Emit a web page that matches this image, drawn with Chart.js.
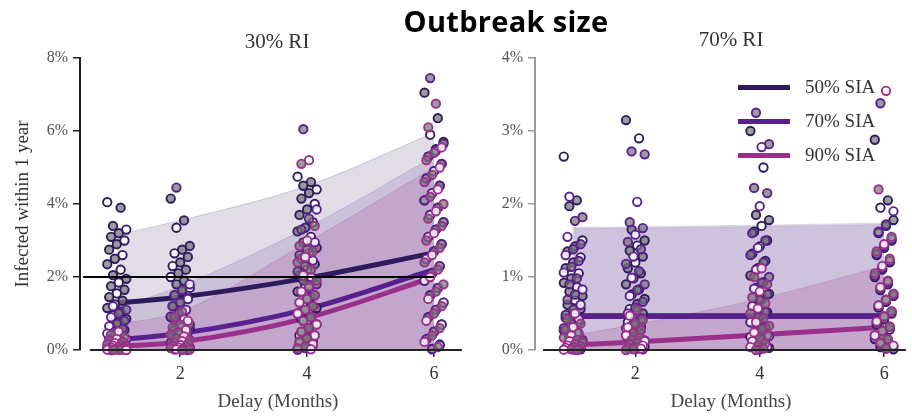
<!DOCTYPE html>
<html>
<head>
<meta charset="utf-8">
<script src="https://cdn.jsdelivr.net/npm/chart.js@4.4.1/dist/chart.umd.min.js"></script>
<style>
  html, body { margin: 0; padding: 0; background: #fff; }
  #wrap { position: relative; width: 912px; height: 418px; overflow: hidden; background: #fff; }
  canvas { position: absolute; top: 0; }
  .txt { position: absolute; white-space: nowrap; color: #222; font-family: "Liberation Serif", "DejaVu Serif", serif; }
  .sw { position: absolute; height: 5px; width: 52px; }
</style>
</head>
<body>
<div id="wrap">
  <canvas id="left" width="468" height="418" style="left:0px"></canvas>
  <canvas id="right" width="452" height="418" style="left:460px"></canvas>

  <div class="txt" style="left:0;width:1012px;text-align:center;top:1px;font-family:'Open Sans',sans-serif;font-weight:700;font-size:29px;color:#000;letter-spacing:0.3px;">Outbreak size</div>
  <div class="txt" style="left:177px;width:200px;text-align:center;top:29px;font-size:21px;color:#333;">30% RI</div>
  <div class="txt" style="left:631px;width:200px;text-align:center;top:27px;font-size:21px;color:#333;">70% RI</div>
  <div class="txt" style="left:-78px;width:200px;text-align:center;top:193px;font-size:19px;color:#333;transform:rotate(-90deg);">Infected within 1 year</div>
  <div class="txt" style="left:178px;width:200px;text-align:center;top:390px;font-size:19px;color:#444;">Delay (Months)</div>
  <div class="txt" style="left:631px;width:200px;text-align:center;top:390px;font-size:19px;color:#444;">Delay (Months)</div>

  <div class="sw" style="left:738px;top:85px;background:#2d1b5e"></div>
  <div class="sw" style="left:738px;top:119px;background:#5a1f8f"></div>
  <div class="sw" style="left:738px;top:153px;background:#9a2f8c"></div>
  <div class="txt" style="left:805px;top:76px;font-size:19px;color:#333;">50% SIA</div>
  <div class="txt" style="left:805px;top:110px;font-size:19px;color:#333;">70% SIA</div>
  <div class="txt" style="left:805px;top:144px;font-size:19px;color:#333;">90% SIA</div>
</div>

<script>
// Delay before the supplementary campaign (months)
const delays = [1, 2, 4, 6];
const xTicks = [2, 4, 6];
const seriesNames = ['50% SIA', '70% SIA', '90% SIA'];

// ---- 30% routine immunisation: fitted trend (% infected) ----
const ri30Fit50 = [1.28, 1.45, 1.97, 2.66];
const ri30Fit70 = [0.28, 0.45, 1.12, 2.2];
const ri30Fit90 = [0.10, 0.22, 0.88, 2.0];
// upper edge of uncertainty bands (lower edge at 0)
const ri30Upper50 = [3.15, 3.55, 4.5, 5.95];
const ri30Upper70 = [1.15, 1.75, 3.35, 5.3];
const ri30Upper90 = [0.7, 1.05, 2.95, 5.0];
// threshold reference
const ri30Threshold = 2;

// simulated outbreak sizes, one list per delay
const ri30Runs50 = [
  [4.05, 3.9, 3.4, 3.3, 3.2, 3.1, 3.0, 2.9, 2.75, 2.6, 2.5, 2.35, 2.2, 2.05, 1.95, 1.85, 1.75, 1.65, 1.55, 1.45, 1.35, 1.25, 1.15, 1.05, 0.95, 0.85, 0.75, 0.65, 0.55, 0.45, 0.35, 0.25, 0.15, 0.05],
  [4.15, 3.55, 3.35, 2.85, 2.75, 2.65, 2.55, 2.4, 2.3, 2.2, 2.1, 2.0, 1.9, 1.8, 1.7, 1.6, 1.5, 1.4, 1.3, 1.2, 1.1, 1.0, 0.9, 0.8, 0.7, 0.6, 0.5, 0.4, 0.3, 0.2, 0.1, 0.03],
  [4.75, 4.6, 4.5, 4.4, 4.3, 4.15, 4.0, 3.85, 3.7, 3.5, 3.35, 3.25, 3.1, 2.95, 2.8, 2.65, 2.5, 2.35, 2.2, 2.05, 1.9, 1.75, 1.6, 1.45, 1.3, 1.15, 1.0, 0.85, 0.7, 0.55, 0.4, 0.25, 0.1, 0.02],
  [7.05, 6.35, 5.9, 5.7, 5.5, 5.3, 5.1, 4.9, 4.7, 4.5, 4.3, 4.1, 3.9, 3.7, 3.5, 3.3, 3.1, 2.9, 2.7, 2.5, 2.3, 2.1, 1.9, 1.7, 1.5, 1.3, 1.1, 0.9, 0.7, 0.5, 0.3, 0.15, 0.03]
];
const ri30Runs70 = [
  [1.2, 1.1, 1.0, 0.9, 0.8, 0.72, 0.65, 0.58, 0.5, 0.45, 0.4, 0.35, 0.3, 0.26, 0.22, 0.18, 0.15, 0.12, 0.1, 0.08, 0.06, 0.04, 0.03, 0.02, 0.01, 0],
  [4.45, 1.8, 1.65, 1.5, 1.4, 1.3, 1.2, 1.1, 1.0, 0.92, 0.85, 0.78, 0.7, 0.62, 0.55, 0.48, 0.42, 0.36, 0.3, 0.25, 0.2, 0.15, 0.1, 0.07, 0.04, 0.02, 0],
  [6.05, 3.85, 3.6, 3.3, 2.95, 2.75, 2.6, 2.45, 2.3, 2.15, 2.0, 1.9, 1.8, 1.7, 1.6, 1.5, 1.4, 1.3, 1.2, 1.1, 1.0, 0.9, 0.8, 0.7, 0.6, 0.5, 0.4, 0.3, 0.2, 0.12, 0.05, 0.01],
  [7.45, 5.65, 5.45, 5.3, 5.1, 4.9, 4.7, 4.5, 4.3, 4.1, 3.9, 3.7, 3.5, 3.3, 3.1, 2.9, 2.7, 2.5, 2.3, 2.1, 1.9, 1.7, 1.5, 1.3, 1.1, 0.9, 0.7, 0.5, 0.3, 0.12, 0.02]
];
const ri30Runs90 = [
  [0.5, 0.42, 0.36, 0.3, 0.26, 0.22, 0.19, 0.16, 0.14, 0.12, 0.1, 0.08, 0.07, 0.05, 0.04, 0.03, 0.02, 0.015, 0.01, 0.005, 0, 0],
  [1.05, 0.9, 0.8, 0.7, 0.62, 0.55, 0.48, 0.42, 0.37, 0.32, 0.28, 0.24, 0.2, 0.17, 0.14, 0.11, 0.09, 0.07, 0.05, 0.03, 0.02, 0.01, 0],
  [5.2, 5.1, 3.4, 3.0, 2.85, 2.7, 2.55, 2.4, 2.2, 2.05, 1.9, 1.75, 1.6, 1.5, 1.4, 1.3, 1.2, 1.1, 1.0, 0.9, 0.8, 0.7, 0.6, 0.5, 0.4, 0.32, 0.24, 0.16, 0.1, 0.05, 0.02],
  [6.75, 6.1, 5.55, 5.4, 5.2, 5.0, 4.8, 4.6, 4.4, 4.2, 4.0, 3.8, 3.6, 3.4, 3.2, 3.0, 2.8, 2.6, 2.4, 2.2, 2.0, 1.8, 1.6, 1.4, 1.2, 1.0, 0.8, 0.6, 0.4, 0.22, 0.08]
];

// ---- 70% routine immunisation ----
const ri70Fit50 = [0.47, 0.47, 0.47, 0.47];
const ri70Fit70 = [0.46, 0.46, 0.46, 0.46];
const ri70Fit90 = [0.07, 0.11, 0.21, 0.31];
const ri70Upper50 = [1.68, 1.69, 1.71, 1.74];
const ri70Upper70 = [1.66, 1.67, 1.69, 1.72];
const ri70Upper90 = [0.2, 0.35, 0.7, 1.15];

const ri70Runs50 = [
  [2.65, 2.05, 1.97, 1.5, 1.42, 1.35, 1.27, 1.2, 1.12, 1.05, 0.98, 0.92, 0.86, 0.8, 0.74, 0.68, 0.62, 0.56, 0.5, 0.44, 0.38, 0.32, 0.27, 0.22, 0.17, 0.12, 0.08, 0.04, 0.01],
  [3.15, 2.9, 1.65, 1.5, 1.43, 1.36, 1.28, 1.2, 1.12, 1.05, 0.98, 0.9, 0.83, 0.76, 0.7, 0.63, 0.56, 0.5, 0.44, 0.38, 0.32, 0.26, 0.2, 0.15, 0.1, 0.05, 0.02],
  [3.0, 2.5, 1.85, 1.78, 1.7, 1.62, 1.5, 1.42, 1.32, 1.22, 1.12, 1.02, 0.93, 0.85, 0.77, 0.69, 0.6, 0.52, 0.45, 0.38, 0.31, 0.24, 0.18, 0.12, 0.07, 0.03],
  [2.88, 2.05, 1.95, 1.78, 1.7, 1.6, 1.5, 1.4, 1.3, 1.2, 1.1, 1.0, 0.9, 0.82, 0.74, 0.66, 0.58, 0.5, 0.42, 0.35, 0.28, 0.21, 0.15, 0.09, 0.04, 0.01]
];
const ri70Runs70 = [
  [2.1, 1.82, 1.77, 1.55, 1.45, 1.38, 1.3, 1.22, 1.14, 1.06, 0.98, 0.9, 0.83, 0.76, 0.69, 0.62, 0.55, 0.48, 0.42, 0.36, 0.3, 0.24, 0.19, 0.14, 0.1, 0.06, 0.03, 0.01],
  [2.72, 2.68, 2.03, 1.75, 1.67, 1.58, 1.48, 1.38, 1.28, 1.18, 1.08, 0.99, 0.9, 0.82, 0.74, 0.66, 0.58, 0.5, 0.43, 0.36, 0.3, 0.24, 0.18, 0.13, 0.08, 0.04, 0.01],
  [3.25, 2.82, 2.78, 2.22, 2.15, 1.97, 1.6, 1.5, 1.4, 1.3, 1.2, 1.1, 1.0, 0.92, 0.84, 0.76, 0.68, 0.6, 0.52, 0.45, 0.38, 0.31, 0.25, 0.19, 0.13, 0.08, 0.04, 0.01],
  [3.38, 1.9, 1.72, 1.62, 1.52, 1.42, 1.32, 1.22, 1.12, 1.02, 0.93, 0.85, 0.77, 0.69, 0.61, 0.53, 0.46, 0.39, 0.32, 0.26, 0.2, 0.14, 0.09, 0.05, 0.02]
];
const ri70Runs90 = [
  [0.5, 0.42, 0.36, 0.31, 0.27, 0.23, 0.2, 0.17, 0.14, 0.12, 0.1, 0.08, 0.06, 0.05, 0.04, 0.03, 0.02, 0.01, 0.005, 0],
  [0.55, 0.47, 0.41, 0.36, 0.31, 0.27, 0.23, 0.2, 0.17, 0.14, 0.12, 0.1, 0.08, 0.06, 0.04, 0.03, 0.02, 0.01, 0],
  [1.12, 1.0, 0.9, 0.8, 0.72, 0.64, 0.57, 0.5, 0.44, 0.38, 0.33, 0.28, 0.24, 0.2, 0.16, 0.12, 0.09, 0.06, 0.04, 0.02, 0],
  [3.55, 2.2, 1.55, 1.45, 1.35, 1.25, 1.15, 1.05, 0.95, 0.86, 0.77, 0.69, 0.61, 0.53, 0.46, 0.39, 0.32, 0.26, 0.2, 0.15, 0.1, 0.06, 0.02]
];

// ---- styling ----
const colors = ['#2d1b5e', '#5a1f8f', '#9a2f8c'];
const serif = '"Liberation Serif", "DejaVu Serif", serif';

// horizontal spread of the runs around each delay
const spread = (i, k) => ((((i * 7) + k * 3) % 11) - 5) * 0.03;

function runsToPoints(groups, k) {
  const pts = [];
  groups.forEach((vals, g) => vals.forEach((v, i) => pts.push({ x: delays[g] + spread(i, k), y: v })));
  return pts;
}
const curve = vals => delays.map((d, i) => ({ x: d, y: vals[i] }));

function bandSet(vals, fillColor, edgeColor, order) {
  return { type: 'line', data: curve(vals), borderColor: edgeColor, borderWidth: 1,
           backgroundColor: fillColor, fill: 'origin', pointRadius: 0,
           cubicInterpolationMode: 'monotone', order };
}
function fitSet(vals, k, order) {
  return { type: 'line', label: seriesNames[k], data: curve(vals), borderColor: colors[k], borderWidth: 5,
           fill: false, pointRadius: 0, cubicInterpolationMode: 'monotone', order };
}
function runSet(groups, k, order) {
  return { type: 'scatter', data: runsToPoints(groups, k), borderColor: colors[k], borderWidth: 1.9,
           pointRadius: 4.2, clip: false,
           backgroundColor: ctx => (ctx.dataIndex % 3 === 0 ? 'rgba(255,255,255,0.85)' : 'rgba(118,118,118,0.72)'),
           order };
}

// offset x-axis line, drawn after the datasets
const offsetXAxis = {
  id: 'offsetXAxis',
  afterDraw(chart, args, opts) {
    const { ctx, chartArea } = chart;
    ctx.save();
    ctx.strokeStyle = '#222';
    ctx.lineWidth = 2;
    ctx.beginPath();
    ctx.moveTo(chartArea.left + opts.gap, chartArea.bottom);
    ctx.lineTo(chartArea.right, chartArea.bottom);
    ctx.stroke();
    ctx.restore();
  }
};

function makeChart(id, cfg) {
  return new Chart(document.getElementById(id), {
    data: { datasets: cfg.datasets },
    options: {
      responsive: false,
      animation: false,
      events: [],
      layout: { padding: { top: 58, right: cfg.padRight, left: 0, bottom: 0 } },
      plugins: { legend: { display: false }, tooltip: { enabled: false }, offsetXAxis: { gap: cfg.gap } },
      scales: {
        x: {
          type: 'linear', min: cfg.xMin, max: cfg.xMax,
          afterBuildTicks: s => { s.ticks = xTicks.map(v => ({ value: v })); },
          afterFit: s => { s.height = 68; },
          border: { display: false },
          grid: { drawOnChartArea: false, drawTicks: true, tickLength: 7, color: '#222', lineWidth: 1.5 },
          ticks: { font: { family: serif, size: 18 }, color: '#333', padding: 6 }
        },
        y: {
          min: 0, max: cfg.yMax,
          afterFit: s => { s.width = cfg.yWidth; },
          border: { display: true, color: cfg.yAxisColor, width: 2 },
          grid: { drawOnChartArea: false, drawTicks: true, tickLength: 7, color: cfg.yAxisColor, lineWidth: 1.5 },
          ticks: { stepSize: cfg.yStep, font: { family: serif, size: 16 }, color: '#555', padding: 5,
                   callback: v => v + '%' }
        }
      }
    },
    plugins: [offsetXAxis]
  });
}

// 30% RI panel
makeChart('left', {
  xMin: 0.42, xMax: 6.44, yMax: 8, yStep: 2, yWidth: 80, padRight: 3, gap: 10, yAxisColor: '#222',
  datasets: [
    bandSet(ri30Upper50, 'rgba(45,27,94,0.15)', 'rgba(45,27,94,0.18)', 63),
    bandSet(ri30Upper70, 'rgba(90,31,143,0.15)', 'rgba(90,31,143,0.18)', 62),
    bandSet(ri30Upper90, 'rgba(154,47,140,0.18)', 'rgba(154,47,140,0.2)', 61),
    fitSet(ri30Fit50, 0, 53), fitSet(ri30Fit70, 1, 52), fitSet(ri30Fit90, 2, 51),
    runSet(ri30Runs50, 0, 43), runSet(ri30Runs70, 1, 42), runSet(ri30Runs90, 2, 41),
    { type: 'line', data: [{ x: 0.47, y: ri30Threshold }, { x: 6, y: ri30Threshold }],
      borderColor: '#000', borderWidth: 2, pointRadius: 0, fill: false, order: 1 }
  ]
});

// 70% RI panel
makeChart('right', {
  xMin: 0.387, xMax: 6.35, yMax: 4, yStep: 1, yWidth: 75, padRight: 0, gap: 8, yAxisColor: '#9a9a9a',
  datasets: [
    bandSet(ri70Upper50, 'rgba(45,27,94,0.13)', 'rgba(45,27,94,0.12)', 63),
    bandSet(ri70Upper70, 'rgba(90,31,143,0.16)', 'rgba(90,31,143,0.15)', 62),
    bandSet(ri70Upper90, 'rgba(154,47,140,0.18)', 'rgba(154,47,140,0.2)', 61),
    fitSet(ri70Fit50, 0, 53), fitSet(ri70Fit70, 1, 52), fitSet(ri70Fit90, 2, 51),
    runSet(ri70Runs50, 0, 43), runSet(ri70Runs70, 1, 42), runSet(ri70Runs90, 2, 41)
  ]
});
</script>
</body>
</html>
